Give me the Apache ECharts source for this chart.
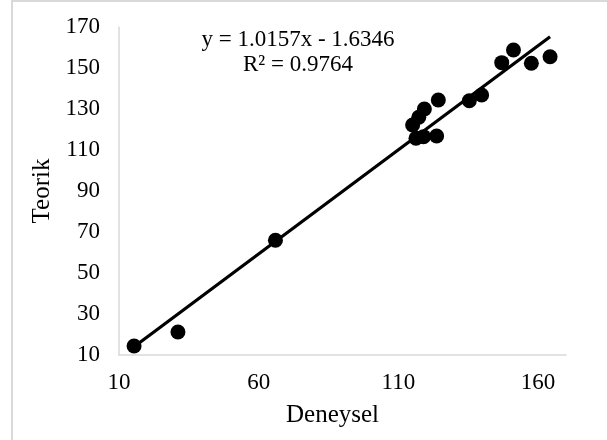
<!DOCTYPE html>
<html>
<head>
<meta charset="utf-8">
<script src="https://cdn.jsdelivr.net/npm/echarts@6/dist/echarts.min.js"></script>
<style>
  html, body { margin: 0; padding: 0; background: #fff; }
  #chart { width: 607px; height: 440px; }
</style>
</head>
<body>
<div id="chart"></div>
<script>
// Measured (Deneysel) vs. theoretical (Teorik) values
const deneysel = [15.4, 31.1, 66.0, 116.3, 119.0, 123.7, 115.1, 117.3, 119.3, 124.3, 135.4, 139.8, 147.0, 151.2, 157.6, 164.3];
const teorik   = [14.4, 21.2, 66.0, 115.7, 116.5, 116.8, 122.2, 126.0, 130.0, 134.4, 134.0, 136.8, 152.6, 158.8, 152.3, 155.5];

// Linear trendline coefficients and fit quality
const slope = 1.0157;
const intercept = -1.6346;
const rSquared = 0.9764;

// Axis tick labels
const xTicks = [10, 60, 110, 160];
const yTicks = [10, 30, 50, 70, 90, 110, 130, 150, 170];

const points = deneysel.map((x, i) => [x, teorik[i]]);
const xMin = Math.min(...deneysel);
const xMax = Math.max(...deneysel);
const trend = [xMin, xMax].map(x => [x, slope * x + intercept]);

const FONT = '"Liberation Serif", "Times New Roman", serif';
const GREY = '#d9d9d9';

const chart = echarts.init(document.getElementById('chart'), null, { renderer: 'canvas' });

const fmt = (v) => (v < 0 ? '- ' : '+ ') + Math.abs(v).toFixed(4);

chart.setOption({
  animation: false,
  backgroundColor: '#fff',
  grid: { left: 119, top: 27, width: 447, height: 328, containLabel: false },
  xAxis: {
    type: 'value',
    min: 10,
    max: 170,
    name: 'Deneysel',
    nameLocation: 'middle',
    nameGap: 48,
    nameTextStyle: { fontFamily: FONT, fontSize: 25, color: '#000', padding: [0, 20, 0, 0] },
    axisLine: { show: true, lineStyle: { color: GREY, width: 1.5 } },
    axisTick: { show: false },
    splitLine: { show: false },
    axisLabel: {
      customValues: xTicks,
      margin: 16,
      fontFamily: FONT, fontSize: 23, color: '#000'
    }
  },
  yAxis: {
    type: 'value',
    min: 10,
    max: 170,
    name: 'Teorik',
    nameLocation: 'middle',
    nameGap: 64,
    nameRotate: 90,
    nameTextStyle: { fontFamily: FONT, fontSize: 25, color: '#000' },
    axisLine: { show: true, lineStyle: { color: GREY, width: 1.5 } },
    axisTick: { show: false },
    splitLine: { show: false },
    axisLabel: {
      customValues: yTicks,
      margin: 19,
      fontFamily: FONT, fontSize: 23, color: '#000'
    }
  },
  graphic: [
    {
      type: 'rect',
      shape: { x: 12, y: 1, width: 620, height: 460 },
      style: { fill: 'none', stroke: GREY, lineWidth: 2 },
      silent: true
    },
    {
      type: 'text',
      x: 298, y: 40,
      style: {
        text: 'y = ' + slope.toFixed(4) + 'x ' + fmt(intercept),
        fontFamily: FONT, fontSize: 23, fill: '#000',
        align: 'center', verticalAlign: 'middle'
      }
    },
    {
      type: 'text',
      x: 298, y: 65,
      style: {
        text: 'R² = ' + rSquared.toFixed(4),
        fontFamily: FONT, fontSize: 23, fill: '#000',
        align: 'center', verticalAlign: 'middle'
      }
    }
  ],
  series: [
    {
      type: 'scatter',
      data: points,
      symbol: 'circle',
      symbolSize: 15,
      itemStyle: { color: '#000', opacity: 1 },
      z: 2
    },
    {
      type: 'line',
      data: trend,
      showSymbol: false,
      symbol: 'none',
      lineStyle: { color: '#000', width: 3.2 },
      z: 3
    }
  ]
});
</script>
</body>
</html>
